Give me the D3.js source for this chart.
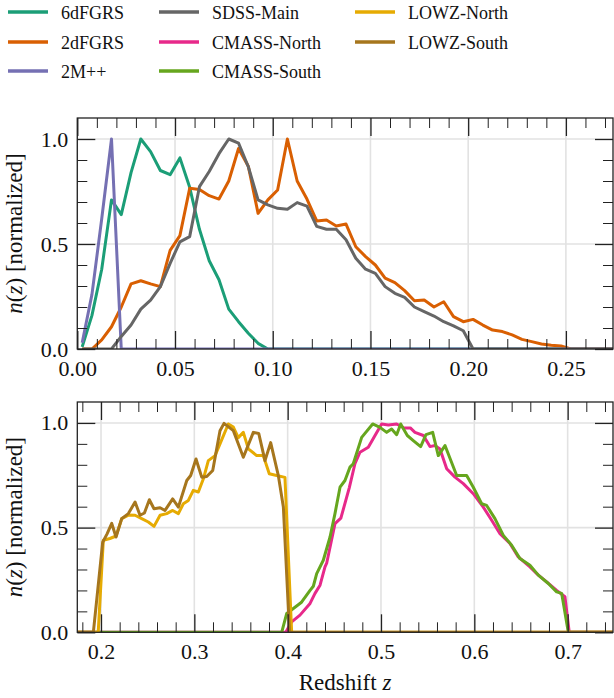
<!DOCTYPE html>
<html lang="en">
<head>
<meta charset="utf-8">
<title>Redshift distributions</title>
<script src="https://d3js.org/d3.v7.min.js"></script>
<style>
  body { margin: 0; background: #fff; }
</style>
</head>
<body>
<div id="chart"></div>

<script>
"use strict"

var SERIF = "'Liberation Serif', 'DejaVu Serif', serif";

// low-z surveys: binned n(z), bin centres every 0.005
var zLow = [0.0025, 0.0075, 0.0125, 0.0175, 0.0225, 0.0275, 0.0325, 0.0375, 0.0425, 0.0475,
            0.0525, 0.0575, 0.0625, 0.0675, 0.0725, 0.0775, 0.0825, 0.0875, 0.0925, 0.0975,
            0.1025, 0.1075, 0.1125, 0.1175, 0.1225, 0.1275, 0.1325, 0.1375, 0.1425, 0.1475,
            0.1525, 0.1575, 0.1625, 0.1675, 0.1725, 0.1775, 0.1825, 0.1875, 0.1925, 0.1975,
            0.2025, 0.2075, 0.2125, 0.2175, 0.2225, 0.2275, 0.2325, 0.2375, 0.2425, 0.2475,
            0.2525, 0.2575, 0.2625, 0.2675, 0.2725, 0.2775];

var n6dF = [0.01, 0.16, 0.38, 0.71, 0.64, 0.84, 1.0, 0.94, 0.85, 0.83,
            0.91, 0.77, 0.57, 0.42, 0.33, 0.19, 0.13, 0.075, 0.027, 0,
            0, 0, 0, 0, 0, 0, 0, 0, 0, 0,
            0, 0, 0, 0, 0, 0, 0, 0, 0, 0,
            0, 0, 0, 0, 0, 0, 0, 0, 0, 0,
            0, 0, 0, 0, 0, 0];

var n2dF = [0, 0, 0.043, 0.106, 0.20, 0.31, 0.325, 0.31, 0.297, 0.47,
            0.54, 0.765, 0.76, 0.73, 0.714, 0.80, 0.955, 0.87, 0.646, 0.71,
            0.757, 1.0, 0.80, 0.714, 0.61, 0.614, 0.586, 0.595, 0.487, 0.44,
            0.40, 0.337, 0.316, 0.278, 0.23, 0.233, 0.20, 0.225, 0.154, 0.13,
            0.141, 0.114, 0.09, 0.083, 0.067, 0.046, 0.035, 0.024, 0.018, 0.014,
            0, 0, 0, 0, 0, 0];

var n2Mpp = [0.03, 0.26, 0.62, 1.0, 0, 0, 0, 0, 0, 0,
             0, 0, 0, 0, 0, 0, 0, 0, 0, 0,
             0, 0, 0, 0, 0, 0, 0, 0, 0, 0,
             0, 0, 0, 0, 0, 0, 0, 0, 0, 0,
             0, 0, 0, 0, 0, 0, 0, 0, 0, 0,
             0, 0, 0, 0, 0, 0];

var nSDSS = [0, 0, 0, 0, 0.06, 0.114, 0.19, 0.233, 0.297, 0.408,
             0.51, 0.535, 0.773, 0.845, 0.93, 1.0, 0.98, 0.868, 0.71, 0.686,
             0.67, 0.665, 0.697, 0.68, 0.584, 0.57, 0.57, 0.52, 0.432, 0.38,
             0.36, 0.297, 0.265, 0.246, 0.20, 0.178, 0.157, 0.13, 0.11, 0.087,
             0, 0, 0, 0, 0, 0, 0, 0, 0, 0,
             0, 0, 0, 0, 0, 0];

// BOSS samples
var zCmassN = [0.17, 0.398, 0.4043, 0.4132, 0.424, 0.4293, 0.4347, 0.44, 0.4418, 0.4507,
               0.457, 0.466, 0.4721, 0.4775, 0.4864, 0.4936, 0.5007, 0.5079, 0.5168, 0.5247,
               0.5314, 0.5364, 0.5454, 0.5525, 0.5578, 0.5632, 0.5704, 0.5793, 0.5882, 0.5989,
               0.6096, 0.6186, 0.6275, 0.6382, 0.6471, 0.6596, 0.6686, 0.6775, 0.6882, 0.6971,
               0.7017, 0.76];
var nCmassN = [0, 0, 0.05, 0.082, 0.138, 0.186, 0.225, 0.312, 0.33, 0.519,
               0.545, 0.69, 0.805, 0.86, 0.884, 0.94, 0.995, 0.99, 0.995, 0.976,
               0.976, 0.955, 0.94, 0.887, 0.892, 0.876, 0.781, 0.741, 0.71, 0.662,
               0.598, 0.535, 0.471, 0.424, 0.36, 0.312, 0.273, 0.241, 0.2, 0.17,
               0, 0];

var zCmassS = [0.17, 0.3936, 0.399, 0.4061, 0.4145, 0.424, 0.4275, 0.4311, 0.4382, 0.4454,
               0.4507, 0.4561, 0.4614, 0.4668, 0.4703, 0.4793, 0.4911, 0.4989, 0.5061, 0.5114,
               0.5168, 0.5211, 0.5282, 0.5346, 0.5425, 0.5482, 0.5554, 0.5614, 0.5686, 0.5811,
               0.5918, 0.5989, 0.6079, 0.6132, 0.6221, 0.6311, 0.64, 0.6489, 0.6596, 0.6686,
               0.6793, 0.6882, 0.6936, 0.7007, 0.76];
var nCmassS = [0, 0, 0.09, 0.114, 0.142, 0.2, 0.22, 0.28, 0.344, 0.455,
               0.567, 0.693, 0.725, 0.789, 0.805, 0.931, 0.995, 0.979, 0.955, 0.971,
               0.944, 0.995, 0.94, 0.916, 0.887, 0.944, 0.955, 0.844, 0.892, 0.749,
               0.749, 0.693, 0.614, 0.606, 0.543, 0.463, 0.416, 0.352, 0.32, 0.273,
               0.233, 0.193, 0.186, 0, 0];

var zLowzN = [0.17, 0.197, 0.2025, 0.2096, 0.2161, 0.2222, 0.2293, 0.2365, 0.2436, 0.2507,
              0.2568, 0.2633, 0.2704, 0.2768, 0.2829, 0.2882, 0.2936, 0.2989, 0.3043, 0.3097,
              0.315, 0.3222, 0.3275, 0.3364, 0.3418, 0.3471, 0.3525, 0.3579, 0.3668, 0.3739,
              0.3803, 0.3882, 0.3971, 0.4043, 0.76];
var nLowzN = [0, 0, 0.44, 0.448, 0.46, 0.543, 0.56, 0.559, 0.543, 0.527,
              0.506, 0.559, 0.567, 0.582, 0.567, 0.614, 0.63, 0.678, 0.67, 0.733,
              0.82, 0.844, 0.9, 0.995, 0.98, 0.93, 0.955, 0.876, 0.844, 0.844,
              0.757, 0.749, 0.74, 0, 0];

var zLowzS = [0.17, 0.1918, 0.2018, 0.2065, 0.2115, 0.2161, 0.2222, 0.2293, 0.2365, 0.2418,
              0.2465, 0.2518, 0.2568, 0.2633, 0.2686, 0.2768, 0.2829, 0.2919, 0.2961, 0.3018,
              0.3079, 0.3133, 0.3197, 0.3275, 0.3318, 0.3418, 0.3525, 0.3632, 0.369, 0.3757,
              0.3818, 0.39, 0.3954, 0.402, 0.76];
var nLowzS = [0, 0, 0.43, 0.47, 0.52, 0.455, 0.543, 0.567, 0.622, 0.559,
              0.57, 0.633, 0.59, 0.595, 0.582, 0.637, 0.598, 0.725, 0.749, 0.828,
              0.741, 0.744, 0.773, 0.963, 0.998, 0.963, 0.836, 0.955, 0.95, 0.82,
              0.906, 0.749, 0.598, 0, 0];

var surveyNames = ['6dFGRS', '2dFGRS', '2M++', 'SDSS-Main', 'CMASS-North', 'CMASS-South', 'LOWZ-North', 'LOWZ-South'];
var surveyColors = ['#1b9e77', '#d95f02', '#7570b3', '#666666', '#e7298a', '#66a61e', '#e6ab02', '#a6761d'];

var topTicks = [0.00, 0.05, 0.10, 0.15, 0.20, 0.25];
var bottomTicks = [0.2, 0.3, 0.4, 0.5, 0.6, 0.7];
var yTicks = [0.0, 0.5, 1.0];

var svg = d3.select('#chart').append('svg')
  .attr('width', 614)
  .attr('height', 698)
  .attr('font-family', SERIF);

function series(i, z, n) {
  return { name: surveyNames[i], color: surveyColors[i], pts: d3.zip(z, n) };
}

function drawPanel(box, xDomain, xMajor, xMinorStep, fmt, lines, clipId) {
  var x = d3.scaleLinear().domain(xDomain).range([box.left, box.right]);
  var y = d3.scaleLinear().domain([0, 1.1]).range([box.bottom, box.top]);

  var xMinor = d3.range(Math.ceil(xDomain[0] / xMinorStep - 1e-6), Math.floor(xDomain[1] / xMinorStep + 1e-6) + 1)
    .map(k => +(k * xMinorStep).toFixed(4))
    .filter(v => xMajor.every(m => Math.abs(m - v) > 1e-6));
  var yMinor = [0.1, 0.2, 0.3, 0.4, 0.6, 0.7, 0.8, 0.9];

  var g = svg.append('g');

  // grid
  g.append('g').selectAll('line').data(xMajor).join('line')
    .attr('x1', d => x(d)).attr('x2', d => x(d))
    .attr('y1', box.top).attr('y2', box.bottom)
    .attr('stroke', '#e2e2e2').attr('stroke-width', 1.6);
  g.append('g').selectAll('line').data(yTicks).join('line')
    .attr('x1', box.left).attr('x2', box.right)
    .attr('y1', d => y(d)).attr('y2', d => y(d))
    .attr('stroke', '#e2e2e2').attr('stroke-width', 1.6);

  svg.append('clipPath').attr('id', clipId).append('rect')
    .attr('x', box.left).attr('y', box.top)
    .attr('width', box.right - box.left).attr('height', box.bottom - box.top);

  var line = d3.line().x(d => x(d[0])).y(d => y(d[1]));
  g.append('g').attr('clip-path', 'url(#' + clipId + ')')
    .selectAll('path').data(lines).join('path')
      .attr('d', s => line(s.pts))
      .attr('fill', 'none')
      .attr('stroke', s => s.color)
      .attr('stroke-width', 3)
      .attr('stroke-linejoin', 'round');

  // ticks point inwards on all four sides
  function axis(gen, tx, ty, vals, size, labels, f, pad) {
    var a = g.append('g')
      .attr('transform', 'translate(' + tx + ',' + ty + ')')
      .call(gen.tickValues(vals).tickSize(-size).tickPadding(pad || 0)
        .tickFormat(labels ? f : ''));
    a.attr('font-family', SERIF).attr('font-size', 22);
    a.select('.domain').remove();
    a.selectAll('line').attr('stroke', '#222').attr('stroke-width', size > 12 ? 1.3 : 1);
    a.selectAll('text').attr('fill', '#111');
  }
  axis(d3.axisBottom(x), 0, box.bottom, xMajor, 18, true, fmt, 11.5);
  axis(d3.axisBottom(x), 0, box.bottom, xMinor, 10, false);
  axis(d3.axisTop(x), 0, box.top, xMajor, 18, false);
  axis(d3.axisTop(x), 0, box.top, xMinor, 10, false);
  axis(d3.axisLeft(y), box.left, 0, yTicks, 18, true, d3.format('.1f'), 9);
  axis(d3.axisLeft(y), box.left, 0, yMinor, 10, false);
  axis(d3.axisRight(y), box.right, 0, yTicks, 18, false);
  axis(d3.axisRight(y), box.right, 0, yMinor, 10, false);

  g.append('rect')
    .attr('x', box.left).attr('y', box.top)
    .attr('width', box.right - box.left).attr('height', box.bottom - box.top)
    .attr('fill', 'none').attr('stroke', '#222').attr('stroke-width', 1.3);

  // y label: n(z) [normalized]
  var yl = svg.append('text')
    .attr('transform', 'translate(22,' + (box.top + box.bottom) / 2 + ') rotate(-90)')
    .attr('text-anchor', 'middle')
    .attr('fill', '#111')
    .attr('font-size', 23);
  yl.append('tspan').attr('font-style', 'italic').text('n');
  yl.append('tspan').text('(');
  yl.append('tspan').attr('font-style', 'italic').text('z');
  yl.append('tspan').text(') [normalized]');
}

var topBox = { left: 77.3, right: 613, top: 118, bottom: 349 };
var botBox = { left: 77.3, right: 613, top: 402, bottom: 632.3 };

drawPanel(topBox, [0, 0.2741], topTicks, 0.01, d3.format('.2f'), [
  series(0, zLow, n6dF),
  series(1, zLow, n2dF),
  series(2, zLow, n2Mpp),
  series(3, zLow, nSDSS)
], 'clipTop');

drawPanel(botBox, [0.1746, 0.7486], bottomTicks, 0.02, d3.format('.1f'), [
  series(4, zCmassN, nCmassN),
  series(5, zCmassS, nCmassS),
  series(6, zLowzN, nLowzN),
  series(7, zLowzS, nLowzS)
], 'clipBot');

var xl = svg.append('text')
  .attr('x', 345).attr('y', 690)
  .attr('text-anchor', 'middle')
  .attr('fill', '#111')
  .attr('font-size', 23);
xl.append('tspan').text('Redshift ');
xl.append('tspan').attr('font-style', 'italic').text('z');

// legend, three columns filled top to bottom
var colX = [8, 159, 355], rowY = [12, 42, 71];
var leg = svg.append('g').selectAll('g').data(surveyNames).join('g')
  .attr('transform', (d, i) => 'translate(' + colX[Math.floor(i / 3)] + ',' + rowY[i % 3] + ')');
leg.append('line')
  .attr('x1', 0).attr('x2', 40)
  .attr('stroke', (d, i) => surveyColors[i])
  .attr('stroke-width', 3.6);
leg.append('text')
  .attr('x', 53).attr('y', 6.5)
  .attr('fill', '#111')
  .attr('font-size', 18)
  .text(d => d);
</script>
</body>
</html>
